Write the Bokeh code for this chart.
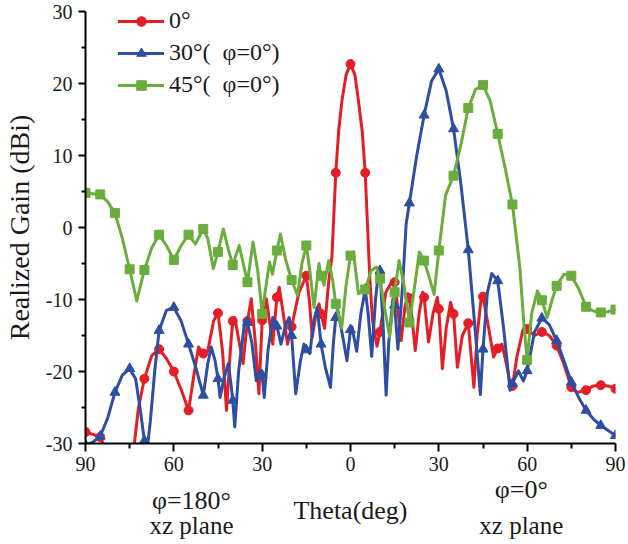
import math
from bokeh.plotting import figure
from bokeh.models import FixedTicker, Legend, LegendItem, LinearAxis
from bokeh.embed import file_html
from bokeh.resources import INLINE

# ---------------- data ----------------
X_TICKS = [-90, -60, -30, 0, 30, 60, 90]
X_TICK_LABELS = ["90", "60", "30", "0", "30", "60", "90"]
X_MINOR = [-75, -45, -15, 15, 45, 75]
Y_TICKS = [-30, -20, -10, 0, 10, 20, 30]
Y_TICK_LABELS = ["-30", "-20", "-10", "0", "10", "20", "30"]
Y_MINOR = [-25, -15, -5, 5, 15, 25]

X_TITLE = "Theta(deg)"
Y_TITLE = "Realized Gain (dBi)"
# plane notes under the axis, at the theta where each note is centred
NOTE_POS = [-54, 58]
NOTE_PHI = ["φ=180°", "φ=0°"]
NOTE_PLANE = ["xz plane", "xz plane"]

SERIES_NAMES = ["0°", "30°(\u00a0\u00a0φ=0°)", "45°(\u00a0\u00a0φ=0°)"]
MARK_STEP = 5

# (theta deg, realized gain dBi)
RED = [(-90, -28.4), (-87, -28.8), (-85, -29.1), (-82, -32), (-80, -35), (-77, -37),
       (-75, -34), (-73.4, -30), (-72, -25), (-70, -21.0), (-67.5, -17.8), (-65, -16.9),
       (-62.5, -18.2), (-60, -20.0), (-57.5, -22.5), (-55, -25.4), (-53, -20), (-51.6, -16.6),
       (-50, -17.5), (-48.5, -17.2), (-46.5, -13), (-45, -11.9), (-43.5, -17), (-42.1, -25.4),
       (-40.8, -17), (-40, -13.0), (-39.3, -12.5), (-38, -15.5), (-36.5, -18.9), (-35, -13),
       (-33.7, -9.9), (-32.3, -16), (-31.1, -23.1), (-30, -12.9), (-28.6, -9.9), (-26.4, -16.2),
       (-25, -9.7), (-24.2, -8.3), (-22.8, -12), (-21.4, -16.2), (-20, -13.8), (-17.5, -9),
       (-15, -6.7), (-14, -10), (-13, -15.2), (-11.7, -12), (-10.7, -10.6), (-10, -12),
       (-8.8, -14), (-7.4, -7.5), (-6.3, -4), (-5, 7.6), (-4, 13.5), (-2.9, 17.6),
       (-1.5, 21.2), (0, 22.7), (1.5, 21.2), (2.7, 17.6), (4, 13.3), (5, 7.6), (6.6, -7.4),
       (7.5, -13), (9, -16.5), (10, -14.5), (12, -9), (14.4, -7.3), (15, -7.6), (16, -11),
       (17.2, -15.7), (18.5, -11), (19.5, -9.2), (20, -9.8), (21, -13), (22, -17.1),
       (23.3, -12), (24.5, -9.0), (25, -9.7), (26.5, -15.9), (28, -12), (29.5, -9.7),
       (30, -11.3), (31.2, -19.6), (32.5, -14), (34, -10.4), (35, -12), (36.3, -19.4),
       (38, -15), (40, -13.3), (41.9, -22.2), (43, -15), (44.5, -9.4), (45, -9.6),
       (46.5, -13), (48.6, -18), (50, -16.8), (51.4, -16.2), (53, -19), (54.5, -22.4),
       (55, -22), (56.5, -18), (58.5, -14.3), (60, -14.1), (62.5, -15), (65, -14.5),
       (67.5, -15), (70, -16.4), (72.5, -19), (75, -22.2), (77, -22.9), (80, -22.6),
       (82.5, -22), (85, -21.9), (87.5, -22), (90, -22.4)]

BLUE = [(-90, -30.2), (-87.5, -29.8), (-85, -29), (-82.5, -26.5), (-80, -22.9), (-77.5, -20.5),
        (-75, -19.6), (-73, -21), (-71.5, -25), (-70, -29.6), (-69, -30.6), (-68, -27),
        (-66.5, -20), (-65, -14.3), (-62.5, -11.5), (-60, -11.1), (-57.5, -13), (-55, -16.2),
        (-52.5, -19.5), (-50, -23.3), (-48.5, -19), (-47.3, -16.6), (-46, -18.5), (-45, -21),
        (-44.3, -23.6), (-43, -21), (-41.5, -18.9), (-40.5, -22), (-40, -24), (-39.3, -27.7),
        (-38, -20), (-35.9, -12.9), (-35, -13.2), (-33.5, -16), (-32, -21.3), (-30.5, -19.8),
        (-30, -20.5), (-29.3, -23.6), (-28, -17), (-26.4, -12.5), (-25, -13.7), (-23.6, -16.2),
        (-22, -13.5), (-20.8, -12.5), (-20, -15), (-18.6, -23.1), (-17, -18.5), (-15.8, -16.2),
        (-15, -17), (-13.8, -17.5), (-12.5, -13), (-11.3, -11.1), (-10, -16.2), (-8.5, -19.5),
        (-6.8, -22.2), (-5.8, -16), (-5, -12.5), (-4.3, -11.5), (-2.5, -15.5), (-1.2, -18.5),
        (0, -14.2), (0.5, -13.8), (2.1, -17.2), (3.5, -12), (5, -8.6), (6, -12), (7.2, -17.9),
        (8.5, -10), (9.6, -5.8), (10, -6.0), (11, -13), (12.1, -23.3), (13, -16), (14.4, -9.9),
        (15, -10.8), (16.1, -16.9), (17, -12), (17.8, -7.4), (18.9, 0.5), (20, 3.4),
        (22.5, 10), (25, 15.6), (27.5, 20.3), (30, 22.0), (32.5, 19), (35, 13.7), (37.5, 6),
        (40, -3.1), (42.5, -15), (44.1, -23.2), (45, -16.9), (46.5, -9), (48, -6.4),
        (50, -7.4), (52, -14), (54.2, -22.6), (55, -21.7), (57, -19.9), (58.7, -21.3),
        (60, -19.9), (62.5, -14.5), (65, -12.6), (67.5, -13.5), (70, -15.7), (72.5, -18.5),
        (75, -21.5), (77.5, -23.6), (80, -25.4), (82.5, -26.6), (85, -27.5), (87.5, -28.2),
        (90, -28.9)]

GREEN = [(-90, 4.8), (-87.5, 4.7), (-85, 4.6), (-82.5, 3.6), (-80, 2.0), (-77.5, -1.5),
         (-75, -5.8), (-72.6, -10.2), (-70, -5.9), (-67.5, -2.8), (-65, -1.0), (-62.5, -2.5),
         (-60, -4.5), (-57.5, -2.5), (-55, -1.0), (-52.7, -2.3), (-50, -0.2), (-48.5, -1.5),
         (-46.6, -5.7), (-45, -3.4), (-43.2, -0.2), (-41.5, -3), (-40, -5.2), (-37.8, -2.5),
         (-35, -7.6), (-33.1, -2.0), (-31.5, -6), (-30, -12.0), (-29, -9), (-27.5, -4.8),
         (-26.5, -6.5), (-25, -3.2), (-23.8, -0.9), (-22, -4.5), (-20, -7.3), (-18, -9.4),
         (-16.5, -5), (-15, -2.5), (-13.8, -6), (-12.4, -11.1), (-10.7, -5), (-10, -6.7),
         (-9, -8), (-7.4, -4.6), (-6, -7.5), (-5, -10.6), (-3, -14), (-1.5, -8), (0, -3.9),
         (1, -3.4), (2.7, -9.2), (3.8, -8.8), (5, -8.6), (7, -6), (8.8, -5.5), (10, -7.1),
         (11.5, -11), (13.3, -15.2), (15, -9.0), (16.5, -4.6), (18.2, -8), (20, -13.2),
         (21.5, -9), (23.4, -3.4), (25, -4.6), (26.8, -7), (28.4, -9.3), (30, -3.2),
         (32.3, 4.5), (35, 7.2), (37.5, 11.5), (40, 16.6), (42.5, 19.2), (45, 19.8),
         (47.5, 17.5), (50, 13.0), (52.5, 8.3), (55, 3.2), (57.5, -5.5), (59, -14),
         (60, -18.4), (61.5, -12), (63.5, -8.8), (65, -10.1), (66.8, -12.5), (68.5, -10),
         (70, -8.1), (72.5, -6.5), (75, -6.7), (77.5, -8.5), (80, -11.0), (82.5, -11.6),
         (85, -11.8), (87.5, -11.7), (90, -11.4)]

COLORS = ["#E41E26", "#2D4EA2", "#6AAD3D"]
MARKERS = ["circle", "triangle", "square"]
MARKER_SIZES = [9, 10, 9]

FONT = "Liberation Serif"
TEXT_COLOR = "#1a1a1a"

# ---------------- figure ----------------
p = figure(width=628, height=544, x_range=(-90, 90), y_range=(-30, 30),
           output_backend="svg", toolbar_location=None,
           min_border_left=79, min_border_right=13, min_border_top=11, min_border_bottom=101)
p.outline_line_color = None
p.grid.visible = False
p.background_fill_color = "white"
p.border_fill_color = "white"

for ax in (p.xaxis[0], p.yaxis[0]):
    ax.axis_line_width = 2
    ax.axis_line_color = "black"
    ax.major_tick_line_width = 2
    ax.minor_tick_line_width = 2
    ax.major_tick_line_color = "black"
    ax.minor_tick_line_color = "black"
    ax.major_tick_in = 0
    ax.minor_tick_in = 0
    ax.major_label_text_font = FONT
    ax.major_label_text_font_size = "20px"
    ax.major_label_text_color = TEXT_COLOR
    ax.axis_label_text_font = FONT
    ax.axis_label_text_font_style = "normal"
    ax.axis_label_text_color = TEXT_COLOR

p.xaxis.ticker = FixedTicker(ticks=X_TICKS, minor_ticks=X_MINOR)
p.xaxis.major_label_overrides = dict(zip(X_TICKS, X_TICK_LABELS))
p.xaxis.major_tick_out = 8
p.xaxis.minor_tick_out = 5
p.xaxis.major_label_standoff = 5

p.yaxis.ticker = FixedTicker(ticks=Y_TICKS, minor_ticks=Y_MINOR)
p.yaxis.major_label_overrides = dict(zip(Y_TICKS, Y_TICK_LABELS))
p.yaxis.major_tick_out = 7
p.yaxis.minor_tick_out = 4
p.yaxis.major_label_standoff = 6
p.yaxis.axis_label = Y_TITLE
p.yaxis.axis_label_text_font_size = "28px"
p.yaxis.axis_label_standoff = 8


def note_axis(positions, labels, standoff, fs):
    nax = LinearAxis(ticker=FixedTicker(ticks=positions, minor_ticks=[]),
                     major_label_overrides=dict(zip(positions, labels)))
    nax.axis_line_color = None
    nax.major_tick_line_color = None
    nax.minor_tick_line_color = None
    nax.major_tick_out = 0
    nax.major_tick_in = 0
    nax.minor_tick_out = 0
    nax.minor_tick_in = 0
    nax.major_label_standoff = standoff
    nax.major_label_text_font = FONT
    nax.major_label_text_font_size = fs
    nax.major_label_text_color = TEXT_COLOR
    nax.axis_label_text_font = FONT
    nax.axis_label_text_font_style = "normal"
    nax.axis_label_text_color = TEXT_COLOR
    return nax

# φ=0° note (right), then φ=180° note (left, a little lower) carrying the axis title
ax_r = note_axis([NOTE_POS[1]], [NOTE_PHI[1]], 1, "26px")
p.add_layout(ax_r, "below")
ax_l = note_axis([NOTE_POS[0]], [NOTE_PHI[0]], -21, "26px")
ax_l.axis_label = X_TITLE
ax_l.axis_label_text_font_size = "26px"
ax_l.axis_label_standoff = -22
p.add_layout(ax_l, "below")
# plane notes
ax2 = note_axis(NOTE_POS, NOTE_PLANE, -16, "25px")
p.add_layout(ax2, "below")

items = []
for name, data, color, marker, msize in zip(SERIES_NAMES, [RED, BLUE, GREEN], COLORS, MARKERS, MARKER_SIZES):
    xs = [t for t, g in data]
    ys = [g for t, g in data]
    mx = [t for t, g in data if float(t).is_integer() and int(t) % MARK_STEP == 0]
    my = [g for t, g in data if float(t).is_integer() and int(t) % MARK_STEP == 0]
    lr = p.line(xs, ys, line_color=color, line_width=3, line_join="round", line_cap="round")
    sr = p.scatter(mx, my, marker=marker, size=msize, fill_color=color, line_color=color, line_width=1)
    items.append(LegendItem(label=name, renderers=[lr, sr]))

legend = Legend(items=items, location=(33, 345))
legend.border_line_color = None
legend.background_fill_alpha = 0
legend.padding = 0
legend.margin = 0
legend.spacing = 5
legend.glyph_width = 46
legend.glyph_height = 24
legend.label_height = 24
legend.label_standoff = 5
legend.label_text_font = FONT
legend.label_text_font_size = "24px"
legend.label_text_color = TEXT_COLOR
p.add_layout(legend)

open("out.html", "w").write(file_html(p, INLINE))
